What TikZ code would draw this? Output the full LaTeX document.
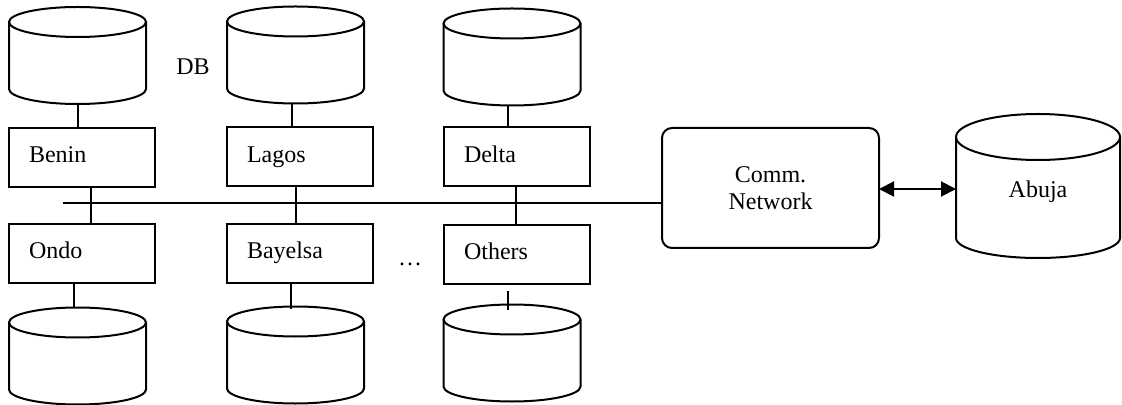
\documentclass[tikz,border=0pt]{standalone}
\usepackage{fontspec}
\setmainfont{Liberation Serif}
\usetikzlibrary{arrows.meta}
\newcommand\smallcyl[3]{%
  \node[cylbox] (#1) at (#2,#3) {};
  \draw ([yshift=-7.5pt]#1.north west) -- ([yshift=7.5pt]#1.south west)
    arc[start angle=180,end angle=360,x radius=34.25pt,y radius=7.5pt]
    -- ([yshift=-7.5pt]#1.north east);
  \draw ([yshift=-7.5pt]#1.north) ellipse[x radius=34.25pt,y radius=7.5pt];
}
\begin{document}
\begin{tikzpicture}[x=0.5pt,y=-0.5pt,line width=1pt,
  font=\fontsize{12pt}{13.5pt}\selectfont,
  cylbox/.style={draw=none,minimum width=68.5pt,minimum height=48.5pt,inner sep=0pt,outer sep=0pt},
  regbox/.style={draw,minimum width=73pt,minimum height=29.5pt,text width=53pt,text height=8pt,text depth=2.5pt,align=left,inner xsep=10pt,inner ysep=0pt,outer sep=0pt},
  netbox/.style={draw,rounded corners=5pt,minimum width=108.5pt,minimum height=60pt,align=center,inner sep=0pt,outer sep=0pt},
  dblarrow/.style={{Triangle[length=7.5pt,width=7.5pt]}-{Triangle[length=7.5pt,width=7.5pt]}}]
\useasboundingbox (0,0) rectangle (1122,405);

% top databases
\smallcyl{c1}{77.5}{55.5}
\smallcyl{c2}{295.5}{55}
\smallcyl{c3}{512}{57}
% bottom databases
\smallcyl{b1}{77.5}{356}
\smallcyl{b2}{295.5}{355}
\smallcyl{b3}{512}{353}

\node (db) at (193,67) {DB};

% region boxes
\node[regbox] (benin) at (82,157.5) {Benin};
\node[regbox] (lagos) at (300,157) {Lagos};
\node[regbox] (delta) at (517,157) {Delta};
\node[regbox] (ondo) at (82,253.5) {Ondo};
\node[regbox] (bayelsa) at (300,253.5) {Bayelsa};
\node[regbox] (others) at (517,254.5) {Others};
\node (dots) at (410,264) {…};

% network and Abuja
\node[netbox] (comm) at (770.5,188) {Comm.\\Network};
\node[draw=none,minimum width=82pt,minimum height=72pt,inner sep=0pt,outer sep=0pt] (abuja) at (1038,186) {};
\draw ([yshift=-11.5pt]abuja.north west) -- ([yshift=10pt]abuja.south west)
  arc[start angle=180,end angle=360,x radius=41pt,y radius=10pt]
  -- ([yshift=-11.5pt]abuja.north east);
\draw ([yshift=-11.5pt]abuja.north) ellipse[x radius=41pt,y radius=11.5pt];
\node (abujalbl) at (1038,192) {Abuja};

% connectors DB -- box
\draw (c1.south) -- (c1.south |- benin.north);
\draw ([xshift=-1.75pt]c2.south) -- ([xshift=-1.75pt]c2.south |- lagos.north);
\draw ([xshift=-2pt]c3.south) -- ([xshift=-2pt]c3.south |- delta.north);
\draw ([xshift=-1.75pt]ondo.south -| b1.north) -- ([xshift=-1.75pt]b1.north);
\draw ([xshift=-2.25pt]bayelsa.south -| b2.north) -- ([xshift=-2.25pt,yshift=-1pt]b2.north);
\draw ([xshift=-2pt,yshift=-3.5pt]others.south -| b3.north) -- ([xshift=-2pt,yshift=-2.5pt]b3.north);

% bus
\coordinate (busstart) at (63,203);
\draw (busstart) -- (busstart -| comm.west);
\draw ([xshift=4.5pt]benin.south) -- ([xshift=4.5pt]benin.south |- ondo.north);
\draw ([xshift=-2pt]lagos.south) -- ([xshift=-2pt]lagos.south |- bayelsa.north);
\draw ([xshift=-0.5pt]delta.south) -- ([xshift=-0.5pt]delta.south |- others.north);

% arrow
\draw[dblarrow] ([yshift=-0.5pt]comm.east) -- ([yshift=-0.5pt]comm.east -| abuja.west);
\end{tikzpicture}
\end{document}
